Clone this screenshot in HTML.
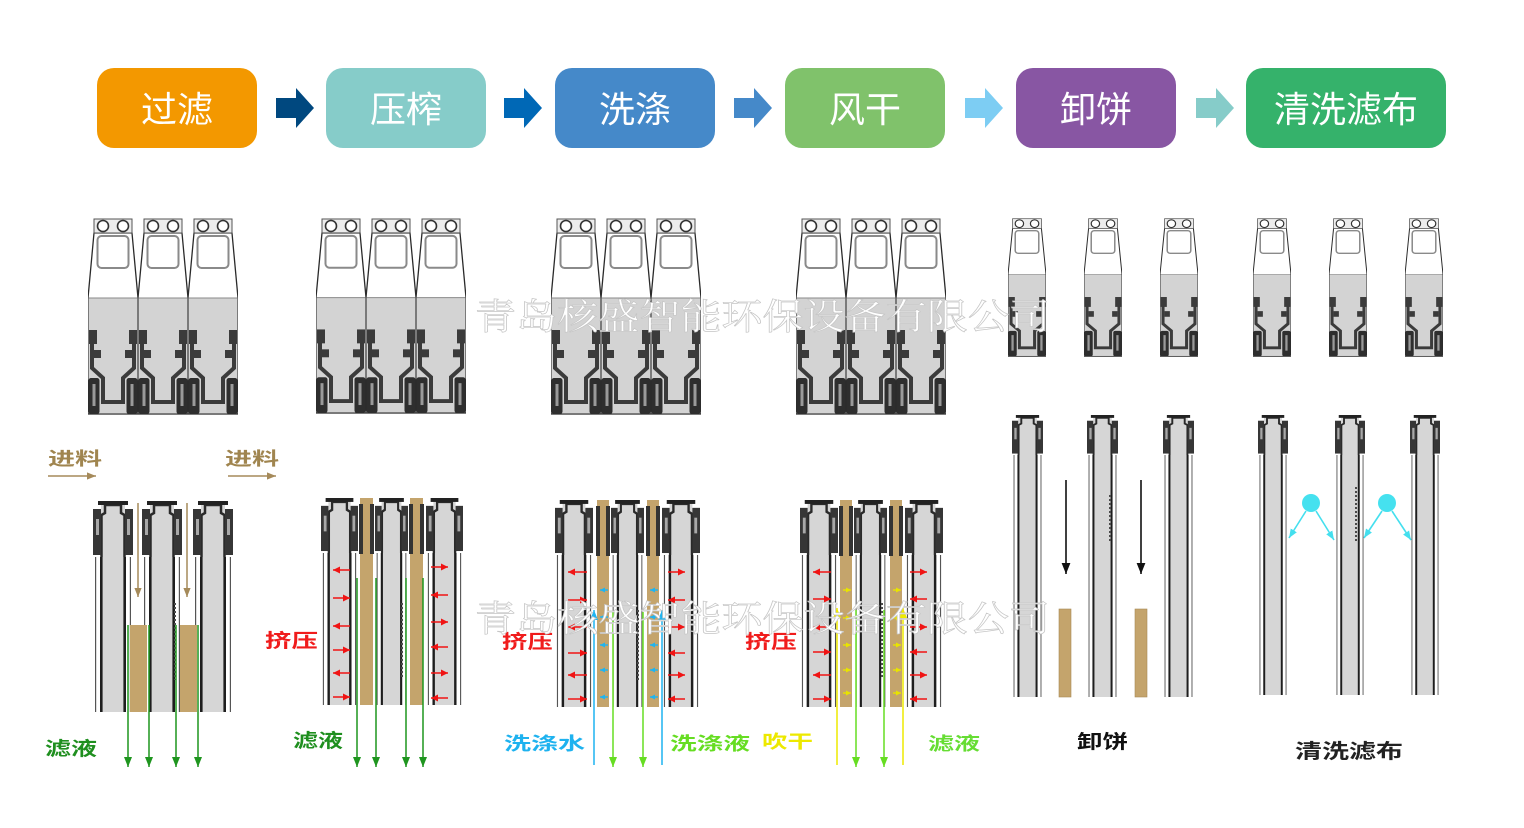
<!DOCTYPE html>
<html><head><meta charset="utf-8">
<style>
html,body{margin:0;padding:0;background:#fff;}
svg{display:block}
.ra{stroke:#f01414;stroke-width:1.6;marker-end:url(#mR)}
.sb{stroke:#1fb4f0;stroke-width:1.4;marker-end:url(#mSB)}
.sy{stroke:#e8e400;stroke-width:1.4;marker-end:url(#mSY)}
.lb{font-family:"Liberation Sans","Noto Sans CJK SC",sans-serif;font-weight:bold}
.hdt{font-family:"Liberation Sans","Noto Sans CJK SC",sans-serif;font-size:36px;fill:#fff;text-anchor:middle}
.wm{font-family:"Liberation Serif","Noto Serif CJK SC",serif;font-size:36px;fill:#fff;stroke:#c6c6c6;stroke-width:0.7}
.ck{fill:#c4a46c}
.dk{fill:#333}
.dot{stroke:#4a4a4a;stroke-width:2;stroke-dasharray:2 2}
</style></head><body>
<svg width="1524" height="828" viewBox="0 0 1524 828" xmlns="http://www.w3.org/2000/svg">
<defs>
<marker id="mG" viewBox="0 0 10 10" refX="10" refY="5" markerWidth="10" markerHeight="10" orient="auto" markerUnits="userSpaceOnUse"><path d="M0,1 L10,5 L0,9 Z" fill="#1f951f"/></marker>
<marker id="mLG" viewBox="0 0 10 10" refX="10" refY="5" markerWidth="10" markerHeight="10" orient="auto" markerUnits="userSpaceOnUse"><path d="M0,1 L10,5 L0,9 Z" fill="#66dd22"/></marker>
<marker id="mB" viewBox="0 0 10 10" refX="10" refY="5" markerWidth="10" markerHeight="10" orient="auto" markerUnits="userSpaceOnUse"><path d="M0,1 L10,5 L0,9 Z" fill="#1fb4f0"/></marker>
<marker id="mY" viewBox="0 0 10 10" refX="10" refY="5" markerWidth="10" markerHeight="10" orient="auto" markerUnits="userSpaceOnUse"><path d="M0,1 L10,5 L0,9 Z" fill="#eeea00"/></marker>
<marker id="mK" viewBox="0 0 10 10" refX="10" refY="5" markerWidth="11" markerHeight="11" orient="auto" markerUnits="userSpaceOnUse"><path d="M0,1 L10,5 L0,9 Z" fill="#111"/></marker>
<marker id="mT" viewBox="0 0 10 10" refX="10" refY="5" markerWidth="9" markerHeight="9" orient="auto" markerUnits="userSpaceOnUse"><path d="M0,1 L10,5 L0,9 Z" fill="#a58a5a"/></marker>
<marker id="mR" viewBox="0 0 10 10" refX="10" refY="5" markerWidth="7" markerHeight="7" orient="auto" markerUnits="userSpaceOnUse"><path d="M0,0 L10,5 L0,10 Z" fill="#f01414"/></marker>
<marker id="mC" viewBox="0 0 10 10" refX="10" refY="5" markerWidth="9" markerHeight="9" orient="auto" markerUnits="userSpaceOnUse"><path d="M0,1 L10,5 L0,9 Z" fill="#44dfee"/></marker>
<marker id="mSB" viewBox="0 0 10 10" refX="10" refY="5" markerWidth="5" markerHeight="5" orient="auto" markerUnits="userSpaceOnUse"><path d="M0,0 L10,5 L0,10 Z" fill="#1fb4f0"/></marker>
<marker id="mSY" viewBox="0 0 10 10" refX="10" refY="5" markerWidth="5" markerHeight="5" orient="auto" markerUnits="userSpaceOnUse"><path d="M0,0 L10,5 L0,10 Z" fill="#e8e400"/></marker>

<symbol id="tp" viewBox="0 0 50 197" preserveAspectRatio="none">
 <path d="M6,15 L44,15 L50,80 L50,196 L0,196 L0,80 Z" fill="#fff" stroke="#2a2a2a" stroke-width="1.3"/>
 <path d="M0.7,80 H49.3 V195 H0.7 Z" fill="#d3d3d3"/>
 <line x1="0.7" y1="80" x2="49.3" y2="80" stroke="#8a8a8a" stroke-width="1"/>
 <rect x="6" y="1" width="38" height="14" fill="#ececec" stroke="#555" stroke-width="1"/>
 <circle cx="15" cy="8" r="5.5" fill="#fff" stroke="#333" stroke-width="1.6"/>
 <circle cx="35" cy="8" r="5.5" fill="#fff" stroke="#333" stroke-width="1.6"/>
 <rect x="9.5" y="18" width="31" height="32" rx="4" fill="#fff" stroke="#8a8a8a" stroke-width="2"/>
 <path d="M4,114 V150 L15,160 V184 H35 V160 L46,150 V114" fill="none" stroke="#3b3b3b" stroke-width="4"/>
 <rect x="1" y="112" width="8" height="14" fill="#3b3b3b"/>
 <rect x="41" y="112" width="8" height="14" fill="#3b3b3b"/>
 <rect x="6" y="132" width="7" height="8" fill="#3b3b3b"/>
 <rect x="37" y="132" width="7" height="8" fill="#3b3b3b"/>
 <rect x="0.5" y="160" width="11" height="36" rx="2.5" fill="#2e2e2e"/>
 <rect x="38.5" y="160" width="11" height="36" rx="2.5" fill="#2e2e2e"/>
 <rect x="4.5" y="166" width="3" height="22" fill="#9a9a9a"/>
 <rect x="42.5" y="166" width="3" height="22" fill="#9a9a9a"/>
</symbol>

<symbol id="hd" viewBox="0 0 40 56" preserveAspectRatio="none">
 <rect x="8" y="2" width="24" height="54" fill="#d6d6d6"/>
 <path d="M8.5,56 V14 L12,12 V4 H28 V12 L31.5,14 V56" fill="none" stroke="#2a2a2a" stroke-width="2.5"/>
 <rect x="5" y="0" width="30" height="4" fill="#222"/>
 <rect x="0" y="8" width="8" height="46" fill="#363636"/>
 <rect x="32" y="8" width="8" height="46" fill="#363636"/>
 <rect x="3" y="18" width="3" height="16" fill="#a8a8a8"/>
 <rect x="34" y="18" width="3" height="16" fill="#a8a8a8"/>
</symbol>

<symbol id="bd" viewBox="0 0 40 100" preserveAspectRatio="none">
 <rect x="8" y="0" width="24" height="100" fill="#d6d6d6"/>
 <rect x="7" y="0" width="2.6" height="100" fill="#1e1e1e"/>
 <rect x="30.4" y="0" width="2.6" height="100" fill="#1e1e1e"/>
 <rect x="2" y="0" width="1.2" height="100" fill="#555"/>
 <rect x="36.8" y="0" width="1.2" height="100" fill="#555"/>
</symbol>
</defs>

<!-- Header boxes -->
<rect x="97" y="68" width="160" height="80" rx="17" fill="#F39800"/>
<rect x="326" y="68" width="160" height="80" rx="17" fill="#86CCC9"/>
<rect x="555" y="68" width="160" height="80" rx="17" fill="#4589C9"/>
<rect x="785" y="68" width="160" height="80" rx="17" fill="#80C26B"/>
<rect x="1016" y="68" width="160" height="80" rx="17" fill="#8856A3"/>
<rect x="1246" y="68" width="200" height="80" rx="17" fill="#35B26B"/>
<text class="hdt" x="177" y="122">过滤</text>
<text class="hdt" x="406" y="122">压榨</text>
<text class="hdt" x="635" y="122">洗涤</text>
<text class="hdt" x="865" y="122">风干</text>
<text class="hdt" x="1096" y="122">卸饼</text>
<text class="hdt" x="1346" y="122">清洗滤布</text>

<!-- Header arrows -->
<polygon points="276,98 296,98 296,88 314,108 296,128 296,118 276,118" fill="#00487F"/>
<polygon points="504,98 524,98 524,88 542,108 524,128 524,118 504,118" fill="#0068B6"/>
<polygon points="734,98 754,98 754,88 772,108 754,128 754,118 734,118" fill="#4589C9"/>
<polygon points="965,98 985,98 985,88 1003,108 985,128 985,118 965,118" fill="#7DCDF3"/>
<polygon points="1196,98 1216,98 1216,88 1234,108 1216,128 1216,118 1196,118" fill="#86CCC9"/>

<!-- Top plates -->
<use href="#tp" x="88" y="218" width="50" height="197"/>
<use href="#tp" x="138" y="218" width="50" height="197"/>
<use href="#tp" x="188" y="218" width="50" height="197"/>

<use href="#tp" x="316" y="218" width="50" height="196"/>
<use href="#tp" x="366" y="218" width="50" height="196"/>
<use href="#tp" x="416" y="218" width="50" height="196"/>

<use href="#tp" x="551" y="218" width="50" height="197"/>
<use href="#tp" x="601" y="218" width="50" height="197"/>
<use href="#tp" x="651" y="218" width="50" height="197"/>

<use href="#tp" x="796" y="218" width="50" height="197"/>
<use href="#tp" x="846" y="218" width="50" height="197"/>
<use href="#tp" x="896" y="218" width="50" height="197"/>

<use href="#tp" x="1008" y="218" width="38" height="139"/>
<use href="#tp" x="1084" y="218" width="38" height="139"/>
<use href="#tp" x="1160" y="218" width="38" height="139"/>

<use href="#tp" x="1253" y="218" width="38" height="139"/>
<use href="#tp" x="1329" y="218" width="38" height="139"/>
<use href="#tp" x="1405" y="218" width="38" height="139"/>

<!-- ===== G1 bottom (过滤) ===== -->
<text class="lb" x="48" y="465" font-size="18" fill="#a0854f" textLength="54" lengthAdjust="spacingAndGlyphs">进料</text>
<text class="lb" x="225" y="465" font-size="18" fill="#a0854f" textLength="54" lengthAdjust="spacingAndGlyphs">进料</text>
<line x1="48" y1="476" x2="96" y2="476" stroke="#a58a5a" stroke-width="1.5" marker-end="url(#mT)"/>
<line x1="228" y1="476" x2="276" y2="476" stroke="#a58a5a" stroke-width="1.5" marker-end="url(#mT)"/>

<use href="#bd" x="93" y="557" width="40" height="155"/>
<use href="#hd" x="93" y="501" width="40" height="56"/>
<use href="#bd" x="142" y="557" width="40" height="155"/>
<use href="#hd" x="142" y="501" width="40" height="56"/>
<use href="#bd" x="193" y="557" width="40" height="155"/>
<use href="#hd" x="193" y="501" width="40" height="56"/>
<line class="dot" x1="175" y1="603" x2="175" y2="680"/>
<rect class="ck" x="130" y="625" width="17" height="87"/>
<rect class="ck" x="180" y="625" width="17" height="87"/>
<line x1="138" y1="503" x2="138" y2="597" stroke="#a58a5a" stroke-width="1.5" marker-end="url(#mT)"/>
<line x1="187" y1="503" x2="187" y2="597" stroke="#a58a5a" stroke-width="1.5" marker-end="url(#mT)"/>
<g stroke="#1f951f" stroke-width="1.5" marker-end="url(#mG)">
<line x1="128" y1="625" x2="128" y2="767"/>
<line x1="149" y1="625" x2="149" y2="767"/>
<line x1="176" y1="625" x2="176" y2="767"/>
<line x1="198" y1="625" x2="198" y2="767"/>
</g>
<text class="lb" x="45" y="755" font-size="19" fill="#1f8f1f" textLength="52" lengthAdjust="spacingAndGlyphs">滤液</text>

<!-- ===== G2 bottom (压榨) ===== -->
<use href="#bd" x="321" y="553" width="37" height="152"/>
<use href="#hd" x="321" y="498" width="37" height="55"/>
<use href="#bd" x="375" y="553" width="33" height="152"/>
<use href="#hd" x="375" y="498" width="33" height="55"/>
<use href="#bd" x="426" y="553" width="37" height="152"/>
<use href="#hd" x="426" y="498" width="37" height="55"/>
<line class="dot" x1="402" y1="603" x2="402" y2="677"/>
<rect class="ck" x="360" y="498" width="13" height="207"/>
<rect class="dk" x="359" y="504" width="15" height="50"/>
<rect class="ck" x="363" y="498" width="7" height="62"/>
<rect class="ck" x="410" y="498" width="13" height="207"/>
<rect class="dk" x="409" y="504" width="15" height="50"/>
<rect class="ck" x="413" y="498" width="7" height="62"/>
<line class="ra" x1="350" y1="570" x2="333" y2="570"/>
<line class="ra" x1="333" y1="598" x2="350" y2="598"/>
<line class="ra" x1="350" y1="626" x2="333" y2="626"/>
<line class="ra" x1="333" y1="650" x2="350" y2="650"/>
<line class="ra" x1="350" y1="673" x2="333" y2="673"/>
<line class="ra" x1="333" y1="697" x2="350" y2="697"/>
<line class="ra" x1="431" y1="567" x2="448" y2="567"/>
<line class="ra" x1="448" y1="595" x2="431" y2="595"/>
<line class="ra" x1="431" y1="622" x2="448" y2="622"/>
<line class="ra" x1="448" y1="647" x2="431" y2="647"/>
<line class="ra" x1="431" y1="673" x2="448" y2="673"/>
<line class="ra" x1="448" y1="698" x2="431" y2="698"/>
<g stroke="#1f951f" stroke-width="1.5" marker-end="url(#mG)">
<line x1="357" y1="578" x2="357" y2="767"/>
<line x1="376" y1="578" x2="376" y2="767"/>
<line x1="406" y1="578" x2="406" y2="767"/>
<line x1="423" y1="578" x2="423" y2="767"/>
</g>
<text class="lb" x="265" y="647" font-size="19" fill="#f01c1c" textLength="53" lengthAdjust="spacingAndGlyphs">挤压</text>
<text class="lb" x="293" y="747" font-size="19" fill="#1f8f1f" textLength="50" lengthAdjust="spacingAndGlyphs">滤液</text>

<!-- ===== G3 bottom (洗涤) ===== -->
<use href="#bd" x="555" y="555" width="38" height="152"/>
<use href="#hd" x="555" y="500" width="38" height="55"/>
<use href="#bd" x="611" y="555" width="33" height="152"/>
<use href="#hd" x="611" y="500" width="33" height="55"/>
<use href="#bd" x="662" y="555" width="38" height="152"/>
<use href="#hd" x="662" y="500" width="38" height="55"/>
<line class="dot" x1="638" y1="610" x2="638" y2="680"/>
<rect class="ck" x="597" y="500" width="12" height="207"/>
<rect class="dk" x="596" y="506" width="14" height="50"/>
<rect class="ck" x="600" y="500" width="6" height="62"/>
<rect class="ck" x="647" y="500" width="12" height="207"/>
<rect class="dk" x="646" y="506" width="14" height="50"/>
<rect class="ck" x="650" y="500" width="6" height="62"/>
<line class="ra" x1="587" y1="572" x2="568" y2="572"/>
<line class="ra" x1="568" y1="600" x2="587" y2="600"/>
<line class="ra" x1="587" y1="627" x2="568" y2="627"/>
<line class="ra" x1="568" y1="653" x2="587" y2="653"/>
<line class="ra" x1="587" y1="675" x2="568" y2="675"/>
<line class="ra" x1="568" y1="699" x2="587" y2="699"/>
<line class="ra" x1="668" y1="572" x2="685" y2="572"/>
<line class="ra" x1="685" y1="600" x2="668" y2="600"/>
<line class="ra" x1="668" y1="627" x2="685" y2="627"/>
<line class="ra" x1="685" y1="653" x2="668" y2="653"/>
<line class="ra" x1="668" y1="675" x2="685" y2="675"/>
<line class="ra" x1="685" y1="699" x2="668" y2="699"/>
<line class="sb" x1="608" y1="590" x2="600" y2="590"/>
<line class="sb" x1="608" y1="617" x2="600" y2="617"/>
<line class="sb" x1="608" y1="645" x2="600" y2="645"/>
<line class="sb" x1="608" y1="670" x2="600" y2="670"/>
<line class="sb" x1="608" y1="697" x2="600" y2="697"/>
<line class="sb" x1="658" y1="590" x2="650" y2="590"/>
<line class="sb" x1="658" y1="617" x2="650" y2="617"/>
<line class="sb" x1="658" y1="645" x2="650" y2="645"/>
<line class="sb" x1="658" y1="670" x2="650" y2="670"/>
<line class="sb" x1="658" y1="697" x2="650" y2="697"/>
<g stroke="#1fb4f0" stroke-width="1.5" marker-end="url(#mB)">
<line x1="594" y1="765" x2="594" y2="610"/>
<line x1="662" y1="765" x2="662" y2="610"/>
</g>
<g stroke="#66dd22" stroke-width="1.5" marker-end="url(#mLG)">
<line x1="613" y1="612" x2="613" y2="767"/>
<line x1="643" y1="612" x2="643" y2="767"/>
</g>
<text class="lb" x="502" y="648" font-size="19" fill="#f01c1c" textLength="51" lengthAdjust="spacingAndGlyphs">挤压</text>
<text class="lb" x="504" y="750" font-size="18" fill="#1eb2ef" textLength="81" lengthAdjust="spacingAndGlyphs">洗涤水</text>
<text class="lb" x="670" y="750" font-size="18" fill="#66dd22" textLength="80" lengthAdjust="spacingAndGlyphs">洗涤液</text>
<text class="lb" x="762" y="748" font-size="18" fill="#ede900" textLength="51" lengthAdjust="spacingAndGlyphs">吹干</text>

<!-- ===== G4 bottom (风干) ===== -->
<use href="#bd" x="800" y="555" width="38" height="152"/>
<use href="#hd" x="800" y="500" width="38" height="55"/>
<use href="#bd" x="854" y="555" width="33" height="152"/>
<use href="#hd" x="854" y="500" width="33" height="55"/>
<use href="#bd" x="905" y="555" width="38" height="152"/>
<use href="#hd" x="905" y="500" width="38" height="55"/>
<line class="dot" x1="882" y1="603" x2="882" y2="678"/>
<rect class="ck" x="840" y="500" width="12" height="207"/>
<rect class="dk" x="839" y="506" width="14" height="50"/>
<rect class="ck" x="843" y="500" width="6" height="62"/>
<rect class="ck" x="890" y="500" width="12" height="207"/>
<rect class="dk" x="889" y="506" width="14" height="50"/>
<rect class="ck" x="893" y="500" width="6" height="62"/>
<line class="ra" x1="831" y1="572" x2="813" y2="572"/>
<line class="ra" x1="813" y1="599" x2="831" y2="599"/>
<line class="ra" x1="831" y1="627" x2="813" y2="627"/>
<line class="ra" x1="813" y1="652" x2="831" y2="652"/>
<line class="ra" x1="831" y1="675" x2="813" y2="675"/>
<line class="ra" x1="813" y1="699" x2="831" y2="699"/>
<line class="ra" x1="910" y1="572" x2="927" y2="572"/>
<line class="ra" x1="927" y1="599" x2="910" y2="599"/>
<line class="ra" x1="910" y1="627" x2="927" y2="627"/>
<line class="ra" x1="927" y1="652" x2="910" y2="652"/>
<line class="ra" x1="910" y1="675" x2="927" y2="675"/>
<line class="ra" x1="927" y1="699" x2="910" y2="699"/>
<line class="sy" x1="843" y1="590" x2="851" y2="590"/>
<line class="sy" x1="843" y1="618" x2="851" y2="618"/>
<line class="sy" x1="843" y1="645" x2="851" y2="645"/>
<line class="sy" x1="843" y1="670" x2="851" y2="670"/>
<line class="sy" x1="843" y1="693" x2="851" y2="693"/>
<line class="sy" x1="893" y1="590" x2="901" y2="590"/>
<line class="sy" x1="893" y1="618" x2="901" y2="618"/>
<line class="sy" x1="893" y1="645" x2="901" y2="645"/>
<line class="sy" x1="893" y1="670" x2="901" y2="670"/>
<line class="sy" x1="893" y1="693" x2="901" y2="693"/>
<g stroke="#eeea00" stroke-width="1.5" marker-end="url(#mY)">
<line x1="837" y1="765" x2="837" y2="608"/>
<line x1="903" y1="765" x2="903" y2="608"/>
</g>
<g stroke="#66dd22" stroke-width="1.5" marker-end="url(#mLG)">
<line x1="856" y1="610" x2="856" y2="767"/>
<line x1="884" y1="610" x2="884" y2="767"/>
</g>
<text class="lb" x="745" y="648" font-size="19" fill="#f01c1c" textLength="52" lengthAdjust="spacingAndGlyphs">挤压</text>
<text class="lb" x="928" y="750" font-size="18" fill="#66dd33" textLength="52" lengthAdjust="spacingAndGlyphs">滤液</text>

<!-- ===== G5 bottom (卸饼) ===== -->
<use href="#bd" x="1012" y="455" width="31" height="242"/>
<use href="#hd" x="1012" y="415" width="31" height="40"/>
<use href="#bd" x="1087" y="455" width="31" height="242"/>
<use href="#hd" x="1087" y="415" width="31" height="40"/>
<use href="#bd" x="1163" y="455" width="31" height="242"/>
<use href="#hd" x="1163" y="415" width="31" height="40"/>
<line class="dot" x1="1110" y1="495" x2="1110" y2="543"/>
<rect class="ck" x="1059" y="609" width="12" height="88" stroke="#a88a55" stroke-width="0.6"/>
<rect class="ck" x="1135" y="609" width="12" height="88" stroke="#a88a55" stroke-width="0.6"/>
<g stroke="#111" stroke-width="1.6" marker-end="url(#mK)">
<line x1="1066" y1="480" x2="1066" y2="574"/>
<line x1="1141" y1="480" x2="1141" y2="574"/>
</g>
<text class="lb" x="1077" y="748" font-size="19" fill="#111" textLength="51" lengthAdjust="spacingAndGlyphs">卸饼</text>

<!-- ===== G6 bottom (清洗滤布) ===== -->
<use href="#bd" x="1258" y="455" width="30" height="240"/>
<use href="#hd" x="1258" y="415" width="30" height="40"/>
<use href="#bd" x="1335" y="455" width="30" height="240"/>
<use href="#hd" x="1335" y="415" width="30" height="40"/>
<use href="#bd" x="1410" y="455" width="30" height="240"/>
<use href="#hd" x="1410" y="415" width="30" height="40"/>
<line class="dot" x1="1356" y1="487" x2="1356" y2="542"/>
<circle cx="1311" cy="503" r="9" fill="#45e1ef"/>
<circle cx="1387" cy="503" r="9" fill="#45e1ef"/>
<g stroke="#44dfee" stroke-width="1.6" marker-end="url(#mC)">
<line x1="1306" y1="511" x2="1289" y2="538"/>
<line x1="1316" y1="511" x2="1334" y2="540"/>
<line x1="1382" y1="511" x2="1364" y2="538"/>
<line x1="1392" y1="511" x2="1411" y2="540"/>
</g>
<text class="lb" x="1295" y="758" font-size="20" fill="#222" textLength="108" lengthAdjust="spacingAndGlyphs">清洗滤布</text>

<!-- Watermark -->
<text class="wm" x="475" y="329" textLength="575" lengthAdjust="spacingAndGlyphs">青岛核盛智能环保设备有限公司</text>
<text class="wm" x="475" y="631" textLength="575" lengthAdjust="spacingAndGlyphs">青岛核盛智能环保设备有限公司</text>
</svg>
</body></html>
